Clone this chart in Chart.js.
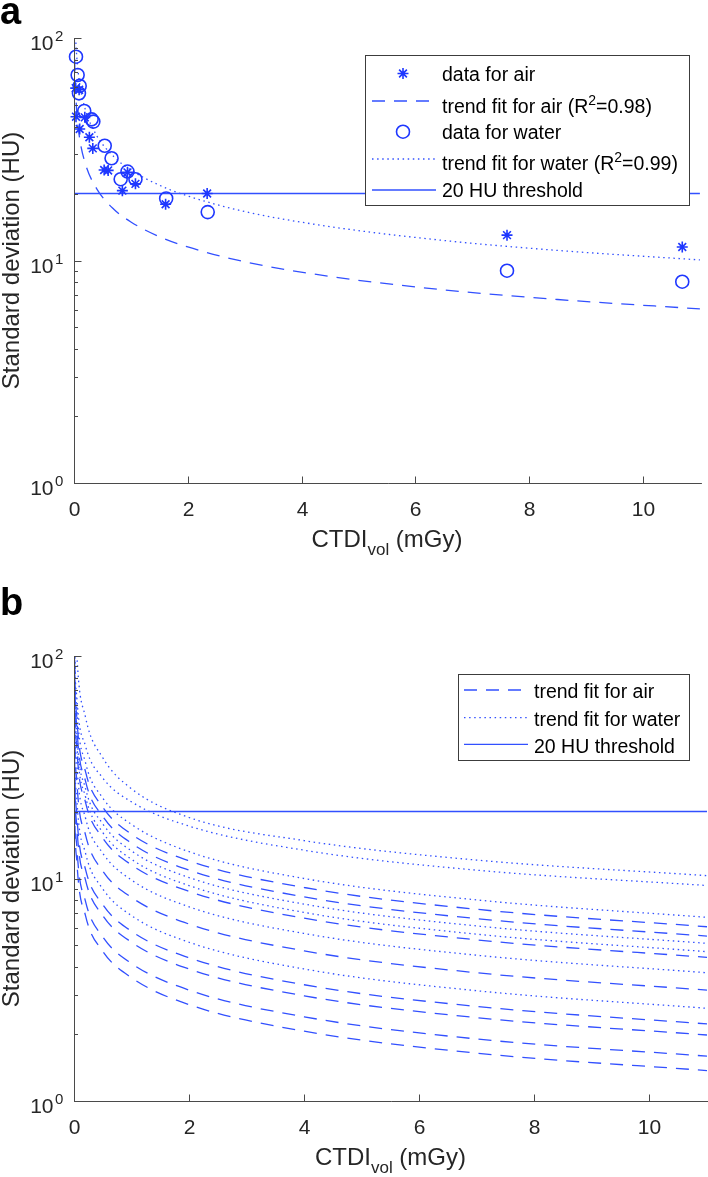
<!DOCTYPE html>
<html>
<head>
<meta charset="utf-8">
<script src="https://cdn.jsdelivr.net/npm/chart.js@4.4.0/dist/chart.umd.min.js"></script>
<style>
  html, body { margin: 0; padding: 0; background: #fff; }
  #wrap { position: relative; width: 708px; height: 1177px; overflow: hidden; }
  canvas { position: absolute; left: 0; }
</style>
</head>
<body>
<div id="wrap">
  <canvas id="chartA" width="708" height="580" style="top:0px"></canvas>
  <canvas id="chartB" width="708" height="597" style="top:580px"></canvas>
</div>
<script>
// ---- panel a : measured standard deviation vs CTDIvol ----
const airDose  = [0.03, 0.09, 0.035, 0.19, 0.10, 0.27, 0.33, 0.53, 0.60, 0.94, 0.85, 1.08, 1.61, 2.34, 7.61, 10.69];
const airSD    = [59.5, 58.5, 44.3, 44.0, 39.0, 35.8, 31.9, 25.5, 25.4, 24.9, 20.6, 22.1, 17.9, 20.0, 13.0, 11.5];
const waterDose = [0.035, 0.064, 0.10, 0.087, 0.18, 0.31, 0.34, 0.54, 0.66, 0.94, 0.82, 1.08, 1.62, 2.35, 7.61, 10.69];
const waterSD   = [82.4, 68.2, 60.9, 56.4, 47.0, 43.1, 42.1, 32.8, 28.8, 25.1, 23.2, 23.2, 19.0, 16.5, 9.0, 8.03];

// trend curves of panel a
const fitDoseA  = [0.006, 0.01, 0.02, 0.03, 0.05, 0.1, 0.2, 0.4, 0.7, 1, 1.5, 2, 3, 4.5, 6.5, 8.5, 11];
const airFitA   = [101.5, 83.8, 64.6, 56.5, 45.8, 35.3, 27.2, 21.0, 17.0, 14.9, 12.8, 11.5, 9.87, 8.48, 7.38, 6.68, 6.06];
const waterFitA = [180, 150, 117, 99.4, 81.5, 62.3, 47.6, 36.4, 29.3, 25.5, 21.8, 19.5, 16.6, 14.2, 12.3, 11.1, 10.06];

const thresholdDose = [0, 11];
const thresholdSD   = [20, 20];

// ---- panel b : all trend fits ----
const fitDoseB = [0.002, 0.01, 0.05, 0.2, 0.5, 1, 2, 4, 7, 11];
const airFitsB = [
  [190, 99.9, 52.5, 30.2, 20.9, 15.8, 12.0, 9.11, 7.27, 6.07],
  [172, 90.7, 47.7, 27.4, 19.0, 14.4, 10.9, 8.27, 6.60, 5.51],
  [138, 72.8, 38.2, 22.0, 15.2, 11.5, 8.75, 6.63, 5.30, 4.42],
  [98.6, 51.8, 27.2, 15.7, 10.8, 8.22, 6.24, 4.73, 3.77, 3.15],
  [69.5, 36.5, 19.2, 11.0, 7.64, 5.79, 4.40, 3.33, 2.66, 2.22],
  [62.0, 32.6, 17.1, 9.84, 6.81, 5.17, 3.92, 2.97, 2.37, 1.98],
  [49.8, 26.2, 13.8, 7.90, 5.47, 4.15, 3.15, 2.39, 1.90, 1.59],
  [42.9, 22.5, 11.9, 6.81, 4.71, 3.58, 2.71, 2.06, 1.64, 1.37]
];
const waterFitsB = [
  [442, 211, 101, 53.1, 34.9, 25.3, 18.8, 14.8, 12.1, 10.3],
  [207, 116, 64.8, 39.4, 28.3, 22.1, 17.2, 13.4, 10.9, 9.3],
  [209, 110, 57.9, 33.2, 23.0, 17.5, 13.2, 10.0, 8.01, 6.69],
  [160, 84.1, 44.2, 25.4, 17.6, 13.3, 10.1, 7.67, 6.12, 5.11],
  [147, 77.2, 40.6, 23.3, 16.1, 12.2, 9.29, 7.04, 5.62, 4.69],
  [118, 62.1, 32.6, 18.7, 13.0, 9.84, 7.46, 5.66, 4.52, 3.77],
  [81.7, 43.0, 22.6, 13.0, 8.98, 6.81, 5.17, 3.92, 3.13, 2.61]
];

const xTicks = [0, 2, 4, 6, 8, 10];
const yDecades = [1, 10, 100];
const yExponents = ['0', '1', '2'];

// ---- styles ----
const BLUE = 'rgb(30, 55, 255)';
const LINE_BLUE = 'rgb(50, 80, 255)';
const AXIS = '#4a4a4a';
const TEXT = '#262626';
const FONT = '"Liberation Sans", Arial, Helvetica, sans-serif';
const DASH = [13, 9];
const DOT = [1.5, 3.6];

function pts(xs, ys) {
  return xs.map((x, i) => ({ x: x, y: ys[i] }));
}

function curve(xs, ys, dash) {
  return {
    data: pts(xs, ys),
    showLine: true,
    pointRadius: 0,
    borderColor: LINE_BLUE,
    borderWidth: 1.3,
    borderDash: dash,
    cubicInterpolationMode: 'monotone',
    clip: 0
  };
}

function markers(xs, ys, style, r) {
  return {
    data: pts(xs, ys),
    showLine: false,
    pointStyle: style,
    pointRadius: r,
    pointBorderWidth: 1.6,
    pointBorderColor: BLUE,
    pointBackgroundColor: 'rgba(0,0,0,0)',
    borderColor: BLUE,
    clip: false
  };
}

// text with sub/superscripts: parts = [text, {sup:'2'}, {sub:'vol'}]
function richWidth(ctx, parts, size) {
  let w = 0;
  parts.forEach((p) => {
    if (typeof p === 'string') { ctx.font = size + 'px ' + FONT; w += ctx.measureText(p).width; }
    else { ctx.font = Math.round(size * 0.7) + 'px ' + FONT; w += ctx.measureText(p.sup || p.sub).width; }
  });
  return w;
}

function drawRich(ctx, parts, x, base, size) {
  ctx.textAlign = 'left';
  ctx.textBaseline = 'alphabetic';
  parts.forEach((p) => {
    if (typeof p === 'string') {
      ctx.font = size + 'px ' + FONT;
      ctx.fillText(p, x, base);
      x += ctx.measureText(p).width;
    } else {
      const s = Math.round(size * 0.7);
      ctx.font = s + 'px ' + FONT;
      const t = p.sup || p.sub;
      ctx.fillText(t, x, p.sup ? base - size * 0.42 : base + size * 0.33);
      x += ctx.measureText(t).width;
    }
  });
}

function drawSample(ctx, kind, x0, x1, y) {
  const cx = (x0 + x1) / 2 - 1;
  ctx.save();
  ctx.strokeStyle = kind === 'star' || kind === 'circle' ? BLUE : LINE_BLUE;
  if (kind === 'star') {
    ctx.lineWidth = 1.6;
    const r = 5.5;
    ctx.beginPath();
    for (let k = 0; k < 4; k++) {
      const a = k * Math.PI / 4;
      ctx.moveTo(cx - r * Math.cos(a), y - r * Math.sin(a));
      ctx.lineTo(cx + r * Math.cos(a), y + r * Math.sin(a));
    }
    ctx.stroke();
  } else if (kind === 'circle') {
    ctx.lineWidth = 1.6;
    ctx.beginPath();
    ctx.arc(cx, y, 6.5, 0, Math.PI * 2);
    ctx.stroke();
  } else {
    ctx.lineWidth = 1.3;
    ctx.setLineDash(kind === 'dash' ? DASH : kind === 'dot' ? DOT : []);
    ctx.beginPath();
    ctx.moveTo(x0, y);
    ctx.lineTo(x1, y);
    ctx.stroke();
  }
  ctx.restore();
}

function panelPlugin(opt) {
  return {
    id: 'panel' + opt.letter,
    afterDraw(chart) {
      const ctx = chart.ctx;
      const xs = chart.scales.x;
      const ys = chart.scales.y;
      const area = chart.chartArea;
      ctx.save();

      // axes lines (box off: left and bottom only)
      ctx.strokeStyle = AXIS;
      ctx.lineWidth = 1;
      ctx.beginPath();
      ctx.moveTo(area.left + 0.5, area.top);
      ctx.lineTo(area.left + 0.5, area.bottom + 0.5);
      ctx.lineTo(area.right + 2, area.bottom + 0.5);
      ctx.stroke();

      // x ticks point inward
      ctx.fillStyle = TEXT;
      ctx.font = '21px ' + FONT;
      ctx.textAlign = 'center';
      ctx.textBaseline = 'alphabetic';
      xTicks.forEach((v) => {
        const px = Math.round(xs.getPixelForValue(v)) + 0.5;
        if (v > 0) {
          ctx.beginPath();
          ctx.moveTo(px, area.bottom);
          ctx.lineTo(px, area.bottom - 6.5);
          ctx.stroke();
        }
        ctx.fillText(String(v), px, area.bottom + 33);
      });

      // y ticks, major and minor
      yDecades.forEach((d, i) => {
        const py = Math.round(ys.getPixelForValue(d)) + 0.5;
        ctx.beginPath();
        ctx.moveTo(area.left, py);
        ctx.lineTo(area.left + 7.5, py);
        ctx.stroke();
        if (i < yDecades.length - 1) {
          for (let m = 2; m <= 9; m++) {
            const my = Math.round(ys.getPixelForValue(d * m)) + 0.5;
            ctx.beginPath();
            ctx.moveTo(area.left, my);
            ctx.lineTo(area.left + 4, my);
            ctx.stroke();
          }
        }
        ctx.font = '21px ' + FONT;
        ctx.textAlign = 'right';
        ctx.fillText('10', 53.5, py + 11.5);
        ctx.font = '15px ' + FONT;
        ctx.textAlign = 'left';
        ctx.fillText(yExponents[i], 55, py + 2);
      });

      // axis titles
      const xt = ['CTDI', { sub: 'vol' }, ' (mGy)'];
      const w = richWidth(ctx, xt, 24);
      const cx = (area.left + area.right) / 2;
      drawRich(ctx, xt, cx - w / 2, area.bottom + 64, 24);

      ctx.save();
      ctx.translate(19, (area.top + area.bottom) / 2);
      ctx.rotate(-Math.PI / 2);
      ctx.font = '24px ' + FONT;
      ctx.textAlign = 'center';
      ctx.textBaseline = 'alphabetic';
      ctx.fillText('Standard deviation (HU)', 0, 0);
      ctx.restore();

      // panel letter
      ctx.fillStyle = '#000';
      ctx.font = 'bold 38px ' + FONT;
      ctx.textAlign = 'left';
      ctx.fillText(opt.letter, 0, opt.letterBase);

      // legend box
      const b = opt.legend.box;
      ctx.fillStyle = '#fff';
      ctx.fillRect(b[0], b[1], b[2] - b[0], b[3] - b[1]);
      ctx.strokeStyle = '#3c3c3c';
      ctx.lineWidth = 1;
      ctx.strokeRect(b[0] + 0.5, b[1] + 0.5, b[2] - b[0], b[3] - b[1]);
      ctx.fillStyle = '#000';
      opt.legend.rows.forEach((r) => {
        drawSample(ctx, r.kind, opt.legend.sample[0], opt.legend.sample[1], r.y);
        ctx.fillStyle = '#000';
        drawRich(ctx, r.parts, opt.legend.textX, r.base, 19.5);
      });
      ctx.restore();
    }
  };
}

function makeOptions(top, axisH) {
  return {
    responsive: false,
    animation: false,
    devicePixelRatio: 1,
    layout: { padding: { top: top, left: 0, right: 1, bottom: 0 } },
    plugins: { legend: { display: false }, tooltip: { enabled: false } },
    scales: {
      x: {
        type: 'linear', min: 0, max: 11,
        grid: { display: false }, border: { display: false },
        ticks: { display: false },
        afterFit: (s) => { s.height = axisH; }
      },
      y: {
        type: 'logarithmic', min: 1, max: 100,
        grid: { display: false }, border: { display: false },
        ticks: { display: false },
        afterFit: (s) => { s.width = 74; }
      }
    }
  };
}

// ---- chart a ----
new Chart(document.getElementById('chartA'), {
  type: 'line',
  data: {
    datasets: [
      markers(airDose, airSD, 'star', 5.5),
      markers(waterDose, waterSD, 'circle', 6.5),
      curve(fitDoseA, airFitA, DASH),
      curve(fitDoseA, waterFitA, DOT),
      curve(thresholdDose, thresholdSD, [])
    ]
  },
  options: makeOptions(38, 97),
  plugins: [panelPlugin({
    letter: 'a', letterBase: 24,
    legend: {
      box: [365, 55, 689, 205], sample: [372, 436], textX: 442,
      rows: [
        { kind: 'star', y: 73.5, base: 80.7, parts: ['data for air'] },
        { kind: 'dash', y: 101, base: 112.7, parts: ['trend fit for air (R', { sup: '2' }, '=0.98)'] },
        { kind: 'circle', y: 131.7, base: 138.7, parts: ['data for water'] },
        { kind: 'dot', y: 159, base: 170, parts: ['trend fit for water (R', { sup: '2' }, '=0.99)'] },
        { kind: 'solid', y: 190, base: 196.7, parts: ['20 HU threshold'] }
      ]
    }
  })]
});

// ---- chart b ----
const dsB = [];
airFitsB.forEach((ys) => dsB.push(curve(fitDoseB, ys, DASH)));
waterFitsB.forEach((ys) => dsB.push(curve(fitDoseB, ys, DOT)));
dsB.push(curve(thresholdDose, thresholdSD, []));

new Chart(document.getElementById('chartB'), {
  type: 'line',
  data: { datasets: dsB },
  options: makeOptions(76, 76),
  plugins: [panelPlugin({
    letter: 'b', letterBase: 35,
    legend: {
      box: [458, 94, 689, 180], sample: [464, 528], textX: 534,
      rows: [
        { kind: 'dash', y: 110, base: 118.3, parts: ['trend fit for air'] },
        { kind: 'dot', y: 137.7, base: 146, parts: ['trend fit for water'] },
        { kind: 'solid', y: 164.3, base: 172.7, parts: ['20 HU threshold'] }
      ]
    }
  })]
});
</script>
</body>
</html>
